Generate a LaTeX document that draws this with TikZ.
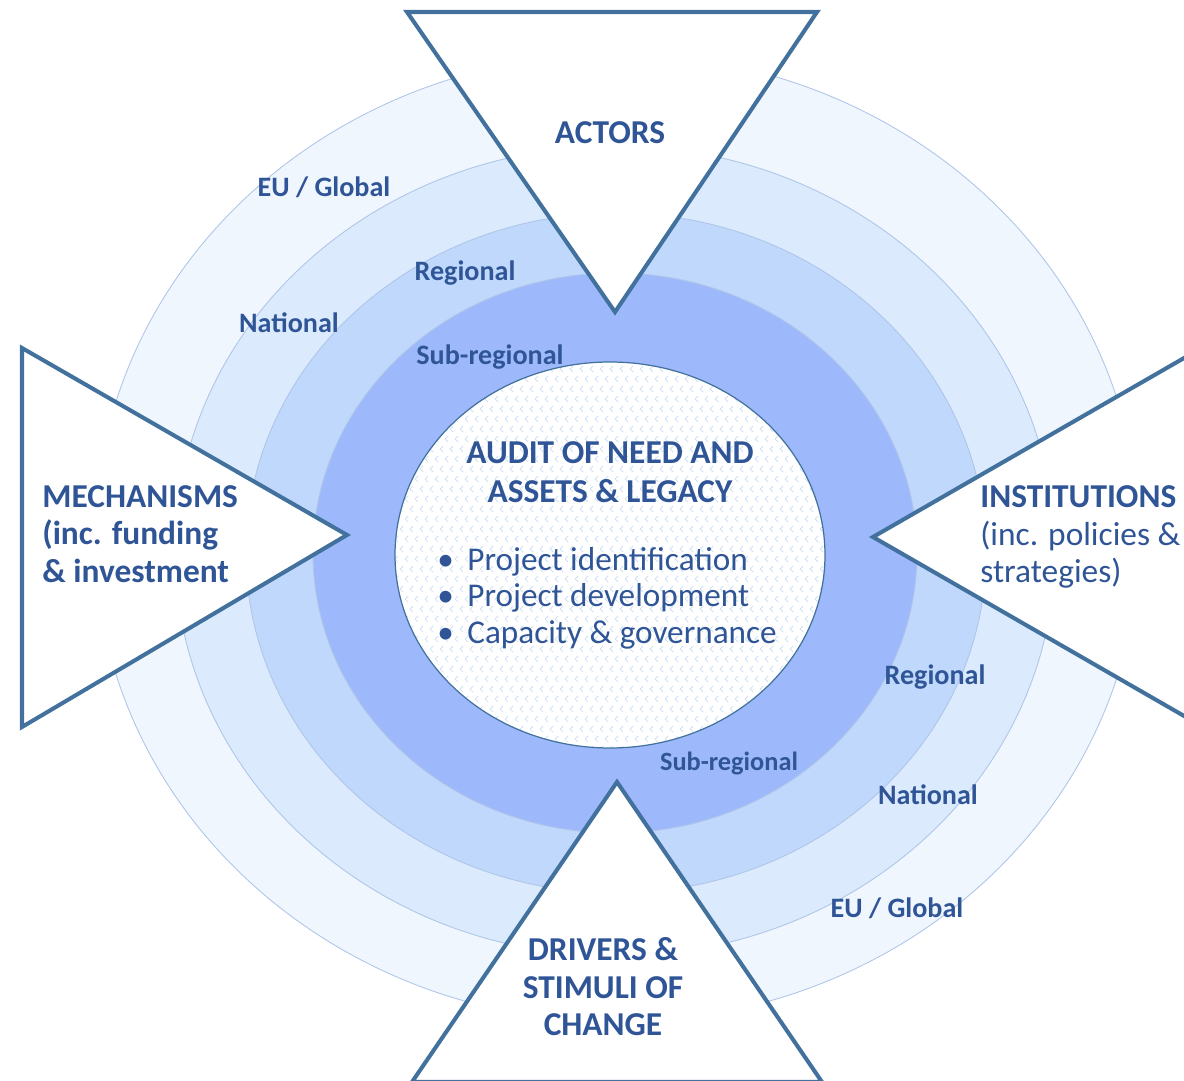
\documentclass[tikz,border=0pt]{standalone}
\usepackage{fontspec}
\setmainfont{Carlito}
\definecolor{txtblue}{HTML}{2F5597}
\definecolor{triblue}{HTML}{41719C}
\definecolor{ringline}{HTML}{AFC6E8}
\definecolor{euring}{HTML}{EFF6FE}
\definecolor{natring}{HTML}{DBEBFD}
\definecolor{regring}{HTML}{C0D8FC}
\definecolor{subring}{HTML}{9DB9FB}
\definecolor{chevcol}{HTML}{C6DCF4}

\begin{document}
\begin{tikzpicture}[x=0.02cm,y=-0.02cm,
  tri/.style={draw=triblue,line width=2.3pt,fill=white,line join=miter},
  ring/.style={draw=ringline,line width=0.5pt},
  big/.style={text=txtblue,font=\fontsize{19}{21.3}\selectfont,inner sep=0pt},
  lvl/.style={text=txtblue,font=\fontsize{16}{18}\selectfont\bfseries,inner sep=0pt}]
\useasboundingbox (0,0) rectangle (1184,1081);
\clip (0,0) rectangle (1184,1081);
% levels, outside in
\foreach \cx/\cy/\rx/\ry/\col in {617/538/522/484/euring,615/551/440/405/natring,
  616/553/370/340/regring,615/553/302/280/subring}
\draw[ring,fill=\col] (\cx,\cy) ellipse [x radius=\rx, y radius=\ry];
% centre
\fill[white] (610,555) ellipse [x radius=215, y radius=193];
\begin{scope}
\clip (610,555) ellipse [x radius=215, y radius=193];
\draw[chevcol,line width=0.4pt] \foreach \i in {0,...,44} {\foreach \j in {0,...,40}
  {({398+10*\i+5*mod(\j,2)},{356+10*\j}) -- ++(-3,3) -- ++(3,3)}};
\end{scope}
\draw[triblue,line width=0.7pt] (610,555) ellipse [x radius=215, y radius=193];
% triangles
\draw[tri] (407,12) -- (817,12) -- (615,312) -- cycle;
\draw[tri] (22,348) -- (347,535) -- (22,727) -- cycle;
\draw[tri] (873,537) -- (1198,350) -- (1198,724) -- cycle;
\draw[tri] (617,782) -- (822,1082) -- (412,1082) -- cycle;
\node[big,font=\fontsize{19}{21.3}\selectfont\bfseries] (actors) at (610,133) {ACTORS};
\node[big,font=\fontsize{19}{21.3}\selectfont\bfseries,align=left,anchor=west] (mech) at (42,534)
  {MECHANISMS\\(inc. funding\\\& investment};
\node[big,align=left,anchor=west] (inst) at (980,537)
  {\textbf{INSTITUTIONS}\\(inc. policies \&\\strategies)};
\node[big,font=\fontsize{19}{21.3}\selectfont\bfseries,align=center] (drivers) at (603,987)
  {DRIVERS \&\\STIMULI OF\\CHANGE};
\node[big,font=\fontsize{19}{22}\selectfont\bfseries,align=center] (audit) at (610,472)
  {AUDIT OF NEED AND\\ASSETS \& LEGACY};
\node[big,align=left,anchor=west,font=\fontsize{18.9}{20.7}\selectfont] (tasks) at (437,598)
  {\makebox[0.6cm][l]{\textbullet}Project identification\\
   \makebox[0.6cm][l]{\textbullet}Project development\\
   \makebox[0.6cm][l]{\textbullet}Capacity \& governance};
% level labels
\node[lvl] (eu1) at (324,187) {EU / Global};
\node[lvl] (nat1) at (289,323) {National};
\node[lvl] (reg1) at (465,273) {Regional};
\node[lvl] (sub1) at (490,357) {Sub-regional};
\node[lvl] (reg2) at (935,677) {Regional};
\node[lvl,font=\fontsize{15}{17}\selectfont\bfseries] (sub2) at (729,763) {Sub-regional};
\node[lvl] (nat2) at (928,795) {National};
\node[lvl] (eu2) at (897,908) {EU / Global};
\end{tikzpicture}
\end{document}
